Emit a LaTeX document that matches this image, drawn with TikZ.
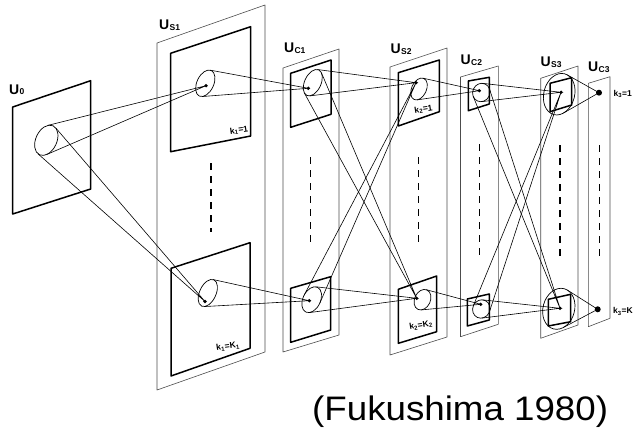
\documentclass[tikz,border=0pt]{standalone}
\usepackage{fontspec}
\setmainfont{Liberation Sans}
\usetikzlibrary{calc}

% layer name: U with a small subscript
\newcommand\layerlabel[1]{{\fontsize{14}{14}\selectfont\bfseries U\kern0.3pt\raisebox{-0.6pt}{\fontsize{8.5}{8.5}\selectfont #1}}}
% cell-plane index inside a layer
\newcommand\planelabel[2]{{\fontsize{8.5}{8.5}\selectfont\bfseries k\textsubscript{#1}=#2}}

% receptive-field cone: two tangents from an apex to a tilted ellipse
% #1 ellipse centre, #2 x radius, #3 y radius, #4 tilt (deg), #5 apex
\newcommand\cone[5]{%
  \draw[conel] let \p1=(#1), \p2=(#5),
      \n1={((\x2-\x1)*cos(#4)+(\y2-\y1)*sin(#4))/(#2)},
      \n2={(-(\x2-\x1)*sin(#4)+(\y2-\y1)*cos(#4))/(#3)},
      \n3={atan2(\n2,\n1)},
      \n4={acos(1/veclen(\n1,\n2))},
      \n5={\n3+\n4}, \n6={\n3-\n4} in
    ($(#1)+({((#2)*cos(\n5)*cos(#4)-(#3)*sin(\n5)*sin(#4))*1pt},{((#2)*cos(\n5)*sin(#4)+(#3)*sin(\n5)*cos(#4))*1pt})$)
    -- (#5) --
    ($(#1)+({((#2)*cos(\n6)*cos(#4)-(#3)*sin(\n6)*sin(#4))*1pt},{((#2)*cos(\n6)*sin(#4)+(#3)*sin(\n6)*cos(#4))*1pt})$);
}
% receptive-field outline
\newcommand\rfield[4]{\draw[rf] (#1) ellipse [x radius=#2pt, y radius=#3pt, rotate=#4];}

\begin{document}
\begin{tikzpicture}[x=1pt,y=-1pt,
  panel/.style={draw=black!70, line width=0.6pt, line join=round},
  fmap/.style={draw=black, line width=1.5pt, line join=round},
  conel/.style={draw=black, line width=0.6pt},
  rf/.style={draw=black, line width=0.7pt},
  gapdash/.style={draw=black, line width=1.4pt, dash pattern=on 7pt off 6pt},
  lname/.style={anchor=base west, inner sep=0pt},
  kname/.style={inner sep=0pt}]
\useasboundingbox (0,0) rectangle (635,428);

% ---- layer outlines ----
\draw[panel] (157,43) -- (265,5) -- (265,352) -- (157,390) -- cycle;        % U_S1
\draw[panel] (283,68) -- (339,49) -- (339,335) -- (283,352) -- cycle;       % U_C1
\draw[panel] (390,67) -- (447,48) -- (447,337) -- (390,355) -- cycle;       % U_S2
\draw[panel] (460.5,77) -- (498.3,66) -- (498.3,324.3) -- (460.5,336.7) -- cycle; % U_C2
\draw[panel] (540.7,78.3) -- (578,66) -- (578,325) -- (540.7,338.3) -- cycle;     % U_S3
\draw[panel] (588.3,83.3) -- (610,76.7) -- (610,318.3) -- (588.3,326.7) -- cycle; % U_C3

% ---- cell planes ----
\draw[fmap] (12.7,107) -- (90.7,80.7) -- (90.7,189) -- (12.7,214) -- cycle;          % U_0
\draw[fmap] (170.7,53.3) -- (250.7,26.7) -- (250.7,136) -- (170.7,151.7) -- cycle;    % U_S1, k1=1
\draw[fmap] (171,268.3) -- (250,242.7) -- (250,348.3) -- (171,376) -- cycle;          % U_S1, k1=K1
\draw[fmap] (290.7,73.3) -- (331,60) -- (331,114.3) -- (290.7,127.3) -- cycle;        % U_C1
\draw[fmap] (290.7,288.3) -- (330.7,276.7) -- (330.7,330) -- (290.7,342.3) -- cycle;
\draw[fmap] (398.3,72.7) -- (439.3,60) -- (439.3,111.7) -- (398.3,126) -- cycle;      % U_S2
\draw[fmap] (398.3,289.3) -- (436.7,276) -- (436.7,331.7) -- (398.3,343.3) -- cycle;
\draw[fmap] (468.3,81) -- (489.3,77.3) -- (489.3,104) -- (468.3,110.7) -- cycle;      % U_C2
\draw[fmap] (467.3,299) -- (489.3,294) -- (489.3,320) -- (467.3,326) -- cycle;
\draw[fmap] (550,83.3) -- (571.7,77.7) -- (571.7,105) -- (550,111.7) -- cycle;        % U_S3
\draw[fmap] (548.3,299.3) -- (570.7,294.3) -- (570.7,321.7) -- (548.3,326) -- cycle;

% ---- receptive-field centres and cells ----
\coordinate (e0)   at (46.3,140.3);
\coordinate (es1a) at (205.3,83.3);
\coordinate (es1b) at (207.8,293);
\coordinate (ec1a) at (312.8,82.7);
\coordinate (ec1b) at (311.7,299.7);
\coordinate (es2a) at (419,89);
\coordinate (es2b) at (422.5,299.7);
\coordinate (ec2a) at (481.3,92.5);
\coordinate (ec2b) at (481.3,309);
\coordinate (es3a) at (559.2,94.2);
\coordinate (es3b) at (558.8,308.8);

\coordinate (s1a) at (206,85.7);
\coordinate (s1b) at (205,301.5);
\coordinate (c1a) at (308.3,88.3);
\coordinate (c1b) at (309.3,300.7);
\coordinate (s2a) at (416,82.7);
\coordinate (s2b) at (416.7,298.3);
\coordinate (c2a) at (479.3,90.7);
\coordinate (c2b) at (480.7,304.3);
\coordinate (s3a) at (561,92.3);
\coordinate (s3b) at (560,308.3);
\coordinate (c3a) at (599,92.7);
\coordinate (c3b) at (597.7,309.3);

\rfield{e0}{10.5}{16}{-25}
\rfield{es1a}{8.4}{14.1}{-25}
\rfield{es1b}{8.2}{14.5}{-25}
\rfield{ec1a}{8.2}{14.1}{-25}
\rfield{ec1b}{8.8}{13.7}{-25}
\rfield{es2a}{7.4}{11.6}{-25}
\rfield{es2b}{7.9}{10.7}{-25}
\rfield{ec2a}{8.6}{9.3}{-25}
\rfield{ec2b}{8.6}{9.3}{-25}
\rfield{es3a}{15.4}{21.1}{-15}
\rfield{es3b}{15.8}{20.8}{-15}

% ---- connections ----
\cone{e0}{10.5}{16}{-25}{s1a}
\cone{e0}{10.5}{16}{-25}{s1b}
\cone{es1a}{8.4}{14.1}{-25}{c1a}
\cone{es1b}{8.2}{14.5}{-25}{c1b}
\cone{ec1a}{8.2}{14.1}{-25}{s2a}
\cone{ec1a}{8.2}{14.1}{-25}{s2b}
\cone{ec1b}{8.8}{13.7}{-25}{s2a}
\cone{ec1b}{8.8}{13.7}{-25}{s2b}
\cone{es2a}{7.4}{11.6}{-25}{c2a}
\cone{es2b}{7.9}{10.7}{-25}{c2b}
\cone{ec2a}{8.6}{9.3}{-25}{s3a}
\cone{ec2a}{8.6}{9.3}{-25}{s3b}
\cone{ec2b}{8.6}{9.3}{-25}{s3a}
\cone{ec2b}{8.6}{9.3}{-25}{s3b}
\cone{es3a}{15.4}{21.1}{-15}{c3a}
\cone{es3b}{15.8}{20.8}{-15}{c3b}

% ---- cells ----
\foreach \c in {s1a,s1b,c1a,c1b,s2a,s2b,c2a,c2b,s3a,s3b}
  \fill (\c) circle (1.8pt);
\fill (c3a) circle (3pt);
\fill (c3b) circle (3pt);

% ---- omitted planes ----
\draw[gapdash] (211,163) -- (211,232);
\draw[gapdash] (310.7,157) -- (310.7,246);
\draw[gapdash] (418.3,157) -- (418.3,246);
\draw[gapdash] (479.3,144) -- (479.3,259);
\draw[gapdash] (560,145) -- (560,260);
\draw[gapdash, line width=1pt] (599,145) -- (599,260);

% ---- layer names ----
\node[lname] (lu0)  at (9,94.3)     {\layerlabel{0}};
\node[lname] (lus1) at (159,30)     {\layerlabel{S1}};
\node[lname] (luc1) at (284,52.7)   {\layerlabel{C1}};
\node[lname] (lus2) at (390.5,54)   {\layerlabel{S2}};
\node[lname] (luc2) at (460.5,65)   {\layerlabel{C2}};
\node[lname] (lus3) at (540.5,66.5) {\layerlabel{S3}};
\node[lname] (luc3) at (588,71.7)   {\layerlabel{C3}};

% ---- plane indices ----
\node[kname, rotate=8]  (k1a) at (239,130.5) {\planelabel{1}{1}};
\node[kname, rotate=8]  (k1b) at (228,346.5) {\planelabel{1}{K\textsubscript{1}}};
\node[kname, rotate=9]  (k2a) at (423.5,109.5) {\planelabel{2}{1}};
\node[kname, rotate=9]  (k2b) at (421,325.5) {\planelabel{2}{K\textsubscript{2}}};
\node[kname, anchor=west] (k3a) at (613.5,94)  {\planelabel{3}{1}};
\node[kname, anchor=west] (k3b) at (613,311.5) {\planelabel{3}{K}};

% ---- source ----
\node[anchor=base west, inner sep=0pt] (src) at (312,420.5)
  {\scalebox{1.08}[1]{\fontsize{34}{34}\selectfont (Fukushima 1980)}};
\end{tikzpicture}
\end{document}
